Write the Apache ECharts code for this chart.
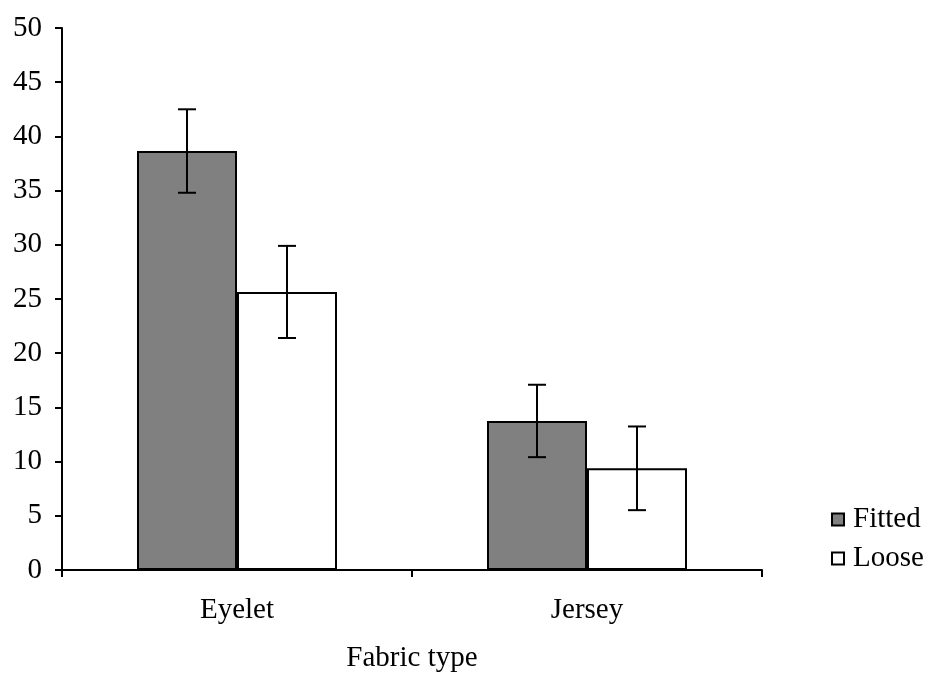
<!DOCTYPE html>
<html>
<head>
<meta charset="utf-8">
<script src="https://cdn.jsdelivr.net/npm/echarts@6/dist/echarts.min.js"></script>
<style>
  html, body { margin: 0; padding: 0; background: #fff; }
  #chart { width: 934px; height: 674px; }
</style>
</head>
<body>
<div id="chart"></div>
<script>
// Fabric type comparison: mean values with error bars
const categories = ['Eyelet', 'Jersey'];
const fittedValues = [38.65, 13.75];
const fittedErrors = [3.85, 3.34];
const looseValues = [25.65, 9.38];
const looseErrors = [4.25, 3.86];
const yTicks = { min: 0, max: 50, interval: 5 };

const FONT = '"Liberation Serif", "Times New Roman", serif';
const FONT_SIZE = 29;
const BAR_SHARE = (1 - 0.42857) / 2; // width of one bar as a share of the band

function errorSeries(name, values, errors, side) {
  const data = values.map((v, i) => [i, v - errors[i], v + errors[i]]);
  return {
    type: 'custom',
    name: name + ' error',
    z: 10,
    silent: true,
    data: data,
    encode: { x: 0, y: [1, 2] },
    renderItem: function (params, api) {
      const band = api.size([1, 0])[0];
      const shift = side * band * BAR_SHARE / 2;
      const lo = api.coord([api.value(0), api.value(1)]);
      const hi = api.coord([api.value(0), api.value(2)]);
      const x = lo[0] + shift;
      const cap = 9;
      const style = { stroke: '#000', lineWidth: 2, fill: null };
      return {
        type: 'group',
        children: [
          { type: 'line', shape: { x1: x, y1: lo[1], x2: x, y2: hi[1] }, style: style },
          { type: 'line', shape: { x1: x - cap, y1: hi[1], x2: x + cap, y2: hi[1] }, style: style },
          { type: 'line', shape: { x1: x - cap, y1: lo[1], x2: x + cap, y2: lo[1] }, style: style }
        ]
      };
    }
  };
}

const chart = echarts.init(document.getElementById('chart'), null, { renderer: 'canvas' });
chart.setOption({
  animation: false,
  backgroundColor: '#fff',
  textStyle: { fontFamily: FONT, color: '#000' },
  grid: { left: 62, top: 28, right: 172, bottom: 104, containLabel: false, outerBoundsMode: 'none' },
  legend: {
    orient: 'vertical',
    left: 826,
    top: 500,
    itemWidth: 12,
    itemHeight: 12,
    itemGap: 10,
    icon: 'rect',
    data: ['Fitted', 'Loose'],
    textStyle: { fontFamily: FONT, fontSize: FONT_SIZE, color: '#000', padding: [0, 0, 0, 4] }
  },
  xAxis: {
    type: 'category',
    data: categories,
    name: 'Fabric type',
    nameLocation: 'middle',
    nameGap: 74,
    nameTextStyle: { fontFamily: FONT, fontSize: FONT_SIZE, color: '#000' },
    axisLine: { lineStyle: { color: '#000', width: 2 } },
    axisTick: { show: true, length: 7, lineStyle: { color: '#000', width: 2 } },
    axisLabel: { fontFamily: FONT, fontSize: FONT_SIZE, color: '#000', margin: 26 }
  },
  yAxis: {
    type: 'value',
    min: yTicks.min,
    max: yTicks.max,
    interval: yTicks.interval,
    splitLine: { show: false },
    axisLine: { show: true, lineStyle: { color: '#000', width: 2 } },
    axisTick: { show: true, length: 7, lineStyle: { color: '#000', width: 2 } },
    axisLabel: { fontFamily: FONT, fontSize: FONT_SIZE, color: '#000', margin: 20 }
  },
  series: [
    {
      type: 'bar',
      name: 'Fitted',
      data: fittedValues,
      barGap: '0%',
      barCategoryGap: '42.857%',
      itemStyle: { color: '#808080', borderColor: '#000', borderWidth: 2 }
    },
    {
      type: 'bar',
      name: 'Loose',
      data: looseValues,
      itemStyle: { color: '#ffffff', borderColor: '#000', borderWidth: 2 }
    },
    errorSeries('Fitted', fittedValues, fittedErrors, -1),
    errorSeries('Loose', looseValues, looseErrors, 1)
  ]
});
</script>
</body>
</html>
